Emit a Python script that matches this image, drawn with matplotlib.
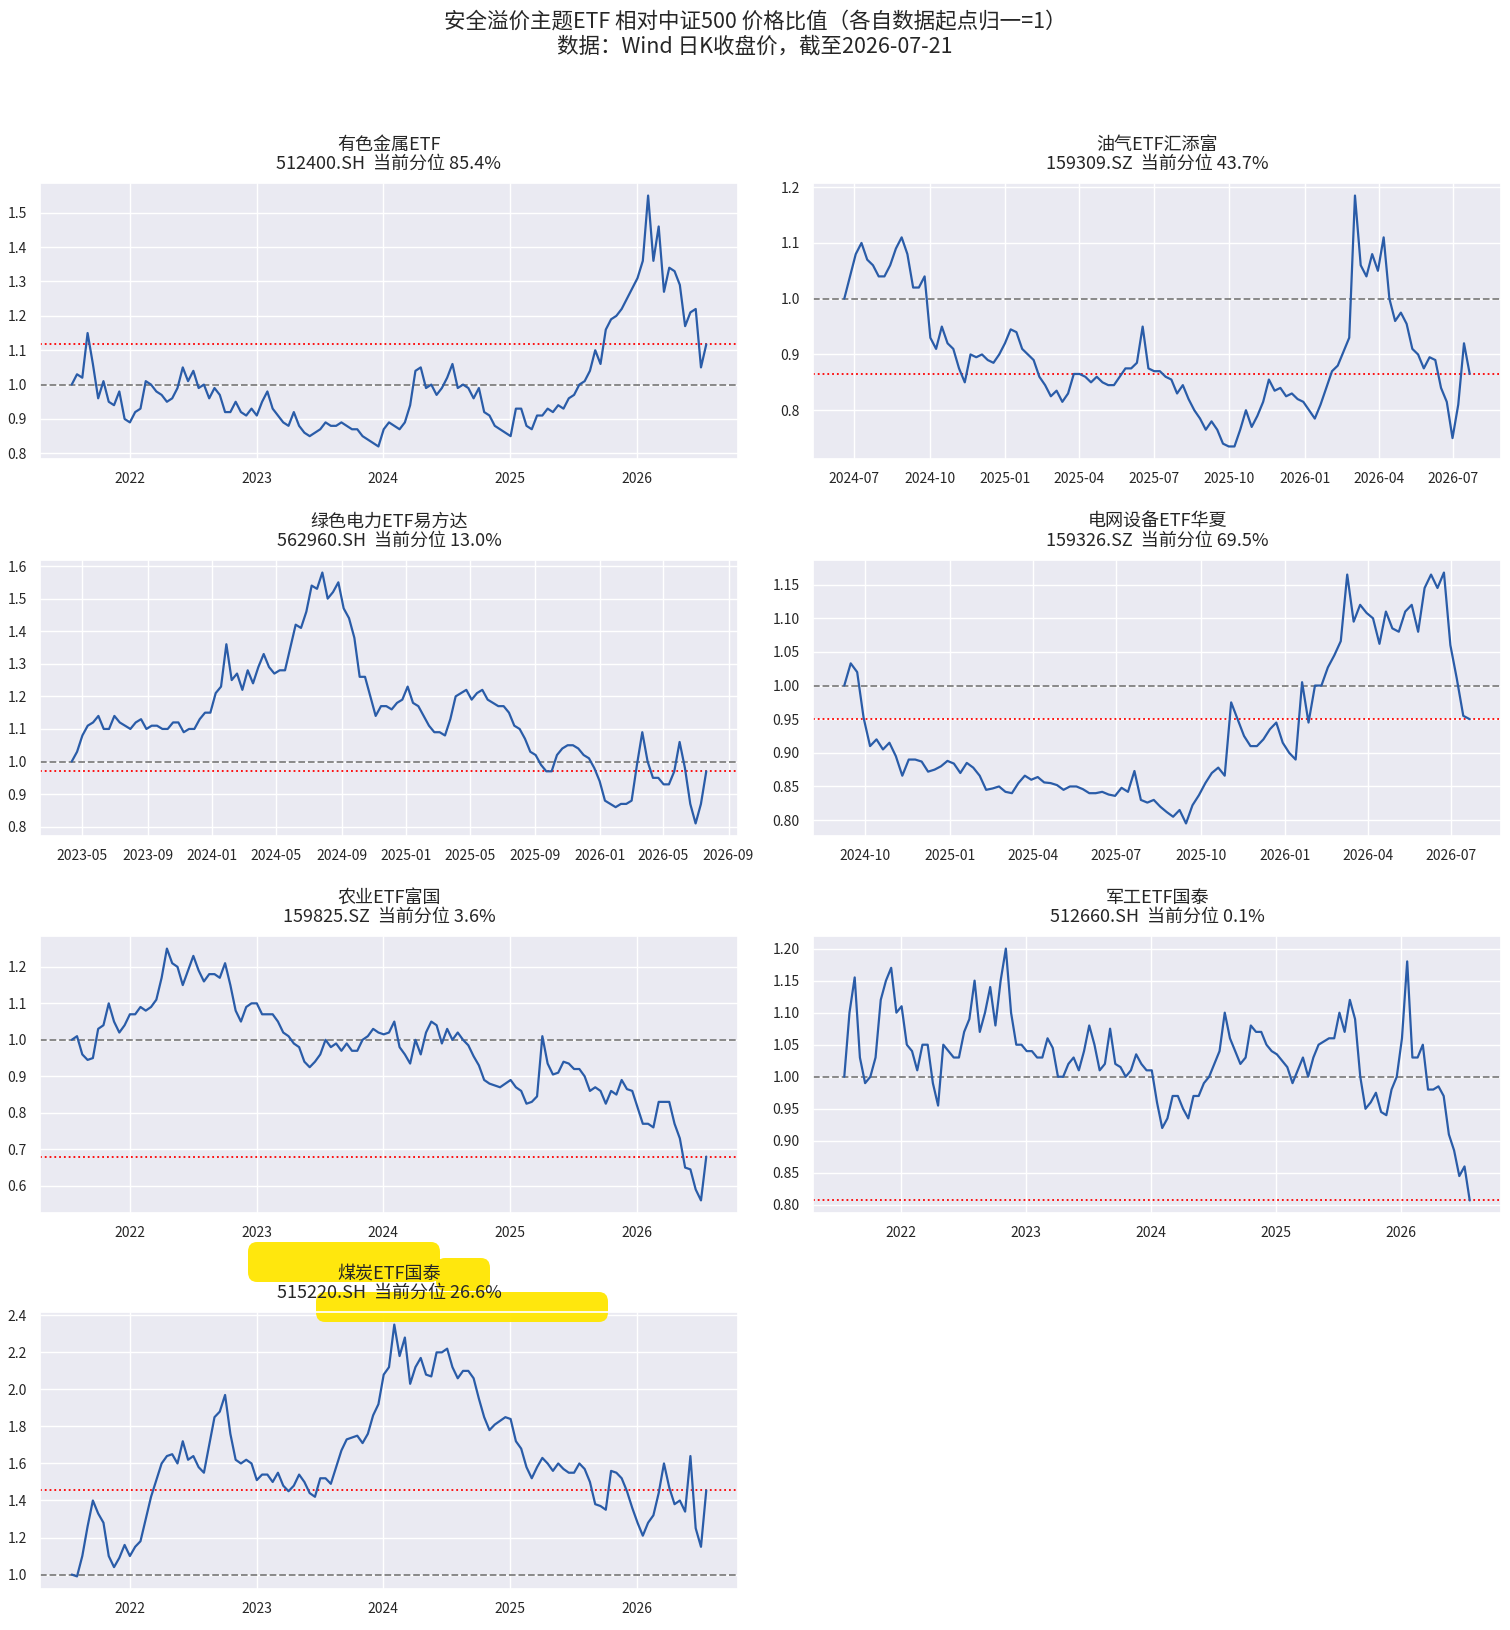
import matplotlib
matplotlib.use("Agg")
import matplotlib.pyplot as plt
import matplotlib.dates as mdates
from matplotlib.ticker import MultipleLocator, FormatStrFormatter
from matplotlib.patches import FancyBboxPatch
import pandas as pd
import seaborn as sns

sns.set_theme(style="darkgrid")
plt.rcParams["font.family"] = ["Noto Sans CJK SC", "DejaVu Sans"]
plt.rcParams["axes.unicode_minus"] = False

END_DATE = "2026-07-21"

names = ["有色金属ETF", "油气ETF汇添富", "绿色电力ETF易方达", "电网设备ETF华夏",
         "农业ETF富国", "军工ETF国泰", "煤炭ETF国泰"]
codes = ["512400.SH", "159309.SZ", "562960.SH", "159326.SZ",
         "159825.SZ", "512660.SH", "515220.SH"]
pcts = [85.4, 43.7, 13.0, 69.5, 3.6, 0.1, 26.6]
starts = ["2021-07-16", "2024-06-19", "2023-04-11", "2024-09-08",
          "2021-07-16", "2021-07-19", "2021-07-16"]

# 有色金属ETF / 中证500
metals = [1.00, 1.03, 1.02, 1.15, 1.06, 0.96, 1.01, 0.95, 0.94, 0.98,
          0.90, 0.89, 0.92, 0.93, 1.01, 1.00, 0.98, 0.97, 0.95, 0.96,
          0.99, 1.05, 1.01, 1.04, 0.99, 1.00, 0.96, 0.99, 0.97, 0.92,
          0.92, 0.95, 0.92, 0.91, 0.93, 0.91, 0.95, 0.98, 0.93, 0.91,
          0.89, 0.88, 0.92, 0.88, 0.86, 0.85, 0.86, 0.87, 0.89, 0.88,
          0.88, 0.89, 0.88, 0.87, 0.87, 0.85, 0.84, 0.83, 0.82, 0.87,
          0.89, 0.88, 0.87, 0.89, 0.94, 1.04, 1.05, 0.99, 1.00, 0.97,
          0.99, 1.02, 1.06, 0.99, 1.00, 0.99, 0.96, 0.99, 0.92, 0.91,
          0.88, 0.87, 0.86, 0.85, 0.93, 0.93, 0.88, 0.87, 0.91, 0.91,
          0.93, 0.92, 0.94, 0.93, 0.96, 0.97, 1.00, 1.01, 1.04, 1.10,
          1.06, 1.16, 1.19, 1.20, 1.22, 1.25, 1.28, 1.31, 1.36, 1.55,
          1.36, 1.46, 1.27, 1.34, 1.33, 1.29, 1.17, 1.21, 1.22, 1.05,
          1.117]

# 油气ETF汇添富
oil = [1.00, 1.04, 1.08, 1.10, 1.07, 1.06, 1.04, 1.04, 1.06, 1.09,
       1.11, 1.08, 1.02, 1.02, 1.04, 0.93, 0.91, 0.95, 0.92, 0.91,
       0.875, 0.85, 0.90, 0.895, 0.90, 0.89, 0.885, 0.90, 0.92, 0.945,
       0.94, 0.91, 0.90, 0.89, 0.86, 0.845, 0.825, 0.835, 0.815, 0.83,
       0.865, 0.865, 0.86, 0.85, 0.86, 0.85, 0.845, 0.845, 0.86, 0.875,
       0.875, 0.885, 0.95, 0.875, 0.87, 0.87, 0.86, 0.855, 0.83, 0.845,
       0.82, 0.80, 0.785, 0.765, 0.78, 0.765, 0.74, 0.735, 0.735, 0.765,
       0.80, 0.77, 0.79, 0.815, 0.855, 0.835, 0.84, 0.825, 0.83, 0.82,
       0.815, 0.80, 0.785, 0.81, 0.84, 0.87, 0.88, 0.905, 0.93, 1.185,
       1.06, 1.04, 1.08, 1.05, 1.11, 1.00, 0.96, 0.975, 0.955, 0.91,
       0.90, 0.875, 0.895, 0.89, 0.84, 0.815, 0.75, 0.81, 0.92, 0.865]

# 绿色电力ETF易方达
green = [1.00, 1.03, 1.08, 1.11, 1.12, 1.14, 1.10, 1.10, 1.14, 1.12,
         1.11, 1.10, 1.12, 1.13, 1.10, 1.11, 1.11, 1.10, 1.10, 1.12,
         1.12, 1.09, 1.10, 1.10, 1.13, 1.15, 1.15, 1.21, 1.23, 1.36,
         1.25, 1.27, 1.22, 1.28, 1.24, 1.29, 1.33, 1.29, 1.27, 1.28,
         1.28, 1.35, 1.42, 1.41, 1.46, 1.54, 1.53, 1.58, 1.50, 1.52,
         1.55, 1.47, 1.44, 1.38, 1.26, 1.26, 1.20, 1.14, 1.17, 1.17,
         1.16, 1.18, 1.19, 1.23, 1.18, 1.17, 1.14, 1.11, 1.09, 1.09,
         1.08, 1.13, 1.20, 1.21, 1.22, 1.19, 1.21, 1.22, 1.19, 1.18,
         1.17, 1.17, 1.15, 1.11, 1.10, 1.07, 1.03, 1.02, 0.99, 0.97,
         0.97, 1.02, 1.04, 1.05, 1.05, 1.04, 1.02, 1.01, 0.98, 0.94,
         0.88, 0.87, 0.86, 0.87, 0.87, 0.88, 0.99, 1.09, 1.00, 0.95,
         0.95, 0.93, 0.93, 0.97, 1.06, 0.98, 0.87, 0.81, 0.87, 0.97]

# 电网设备ETF华夏
grid = [1.00, 1.033, 1.02, 0.952, 0.91, 0.92, 0.905, 0.915, 0.895, 0.866,
        0.89, 0.89, 0.887, 0.872, 0.875, 0.88, 0.888, 0.884, 0.87, 0.885,
        0.878, 0.866, 0.845, 0.847, 0.85, 0.842, 0.84, 0.855, 0.866, 0.86,
        0.864, 0.856, 0.855, 0.852, 0.845, 0.85, 0.85, 0.846, 0.84, 0.84,
        0.842, 0.838, 0.836, 0.848, 0.842, 0.873, 0.83, 0.826, 0.83, 0.82,
        0.812, 0.805, 0.815, 0.795, 0.822, 0.837, 0.855, 0.87, 0.878, 0.866,
        0.975, 0.95, 0.925, 0.91, 0.91, 0.92, 0.935, 0.945, 0.915, 0.90,
        0.89, 1.005, 0.945, 1.00, 1.00, 1.027, 1.045, 1.066, 1.165, 1.095,
        1.12, 1.108, 1.10, 1.062, 1.11, 1.085, 1.08, 1.11, 1.12, 1.08,
        1.145, 1.165, 1.145, 1.168, 1.06, 1.01, 0.955, 0.95]

# 农业ETF富国
agri = [1.00, 1.01, 0.96, 0.945, 0.95, 1.03, 1.04, 1.10, 1.05, 1.02,
        1.04, 1.07, 1.07, 1.09, 1.08, 1.09, 1.11, 1.17, 1.25, 1.21,
        1.20, 1.15, 1.19, 1.23, 1.19, 1.16, 1.18, 1.18, 1.17, 1.21,
        1.15, 1.08, 1.05, 1.09, 1.10, 1.10, 1.07, 1.07, 1.07, 1.05,
        1.02, 1.01, 0.99, 0.98, 0.94, 0.925, 0.94, 0.96, 1.00, 0.98,
        0.99, 0.97, 0.99, 0.97, 0.97, 1.00, 1.01, 1.03, 1.02, 1.015,
        1.02, 1.05, 0.98, 0.96, 0.935, 1.00, 0.96, 1.02, 1.05, 1.04,
        0.99, 1.03, 1.00, 1.02, 1.00, 0.985, 0.955, 0.93, 0.89, 0.88,
        0.875, 0.87, 0.88, 0.89, 0.87, 0.86, 0.825, 0.83, 0.845, 1.01,
        0.935, 0.905, 0.91, 0.94, 0.935, 0.92, 0.92, 0.90, 0.86, 0.87,
        0.86, 0.825, 0.86, 0.85, 0.89, 0.865, 0.86, 0.815, 0.77, 0.77,
        0.76, 0.83, 0.83, 0.83, 0.77, 0.73, 0.65, 0.645, 0.59, 0.56,
        0.68]

# 军工ETF国泰
defense = [1.00, 1.10, 1.155, 1.03, 0.99, 1.00, 1.03, 1.12, 1.15, 1.17,
           1.10, 1.11, 1.05, 1.04, 1.01, 1.05, 1.05, 0.99, 0.955, 1.05,
           1.04, 1.03, 1.03, 1.07, 1.09, 1.15, 1.07, 1.10, 1.14, 1.08,
           1.15, 1.20, 1.10, 1.05, 1.05, 1.04, 1.04, 1.03, 1.03, 1.06,
           1.045, 1.00, 1.00, 1.02, 1.03, 1.01, 1.04, 1.08, 1.05, 1.01,
           1.02, 1.075, 1.02, 1.015, 1.00, 1.01, 1.035, 1.02, 1.01, 1.01,
           0.96, 0.92, 0.935, 0.97, 0.97, 0.95, 0.935, 0.97, 0.97, 0.99,
           1.00, 1.02, 1.04, 1.10, 1.06, 1.04, 1.02, 1.03, 1.08, 1.07,
           1.07, 1.05, 1.04, 1.035, 1.025, 1.015, 0.99, 1.01, 1.03, 1.00,
           1.03, 1.05, 1.055, 1.06, 1.06, 1.10, 1.07, 1.12, 1.09, 1.00,
           0.95, 0.96, 0.975, 0.945, 0.94, 0.98, 1.00, 1.06, 1.18, 1.03,
           1.03, 1.05, 0.98, 0.98, 0.985, 0.97, 0.91, 0.885, 0.845, 0.86,
           0.807]

# 煤炭ETF国泰
coal = [1.00, 0.99, 1.10, 1.26, 1.40, 1.33, 1.28, 1.10, 1.04, 1.09,
        1.16, 1.10, 1.15, 1.18, 1.30, 1.42, 1.51, 1.60, 1.64, 1.65,
        1.60, 1.72, 1.62, 1.64, 1.58, 1.55, 1.70, 1.85, 1.88, 1.97,
        1.76, 1.62, 1.60, 1.62, 1.60, 1.51, 1.54, 1.54, 1.50, 1.55,
        1.48, 1.45, 1.48, 1.54, 1.50, 1.44, 1.42, 1.52, 1.52, 1.49,
        1.58, 1.67, 1.73, 1.74, 1.75, 1.71, 1.76, 1.86, 1.92, 2.08,
        2.12, 2.35, 2.18, 2.28, 2.03, 2.12, 2.17, 2.08, 2.07, 2.20,
        2.20, 2.22, 2.12, 2.06, 2.10, 2.10, 2.06, 1.95, 1.85, 1.78,
        1.81, 1.83, 1.85, 1.84, 1.72, 1.68, 1.58, 1.52, 1.58, 1.63,
        1.60, 1.56, 1.60, 1.57, 1.55, 1.55, 1.60, 1.57, 1.50, 1.38,
        1.37, 1.35, 1.56, 1.55, 1.52, 1.45, 1.36, 1.28, 1.21, 1.28,
        1.32, 1.44, 1.60, 1.47, 1.38, 1.40, 1.34, 1.64, 1.25, 1.15,
        1.455]

series = [metals, oil, green, grid, agri, defense, coal]

# x 轴刻度：年 / 季度 / 四个月
x_ticks = ["year", "quarter", "4month", "quarter", "year", "year", "year"]
y_steps = [0.1, 0.1, 0.1, 0.05, 0.1, 0.05, 0.2]

LINE_COLOR = "#2a5ca8"

fig, axes = plt.subplots(4, 2, figsize=(15.1, 16.3), dpi=100)
axes = axes.flatten()

# 手动排版（像素 -> figure 比例）
W, H = 1510, 1630
col_x = [(40, 698), (813, 688)]
row_y = [(183, 459), (560, 836), (936, 1213), (1312, 1589)]

for i in range(7):
    ax = axes[i]
    r, c = divmod(i, 2)
    x0, w = col_x[c]
    top, bot = row_y[r]
    ax.set_position([x0 / W, 1 - bot / H, w / W, (bot - top) / H])

    vals = series[i]
    dates = pd.date_range(starts[i], END_DATE, periods=len(vals))
    ax.plot(dates, vals, color=LINE_COLOR, lw=1.6, zorder=2)
    ax.axhline(1.0, color="gray", ls="--", lw=1.3, zorder=1.5)
    ax.axhline(vals[-1], color="red", ls=":", lw=1.3, zorder=1.5)

    ax.set_title(f"{names[i]}\n{codes[i]}  当前分位 {pcts[i]:.1f}%", fontsize=13,
                 linespacing=1.1, pad=10)

    if x_ticks[i] == "year":
        ax.xaxis.set_major_locator(mdates.YearLocator())
        ax.xaxis.set_major_formatter(mdates.DateFormatter("%Y"))
    elif x_ticks[i] == "quarter":
        ax.xaxis.set_major_locator(mdates.MonthLocator(bymonth=[1, 4, 7, 10]))
        ax.xaxis.set_major_formatter(mdates.DateFormatter("%Y-%m"))
    else:
        ax.xaxis.set_major_locator(mdates.MonthLocator(bymonth=[1, 5, 9]))
        ax.xaxis.set_major_formatter(mdates.DateFormatter("%Y-%m"))

    ax.yaxis.set_major_locator(MultipleLocator(y_steps[i]))
    if y_steps[i] == 0.05:
        ax.yaxis.set_major_formatter(FormatStrFormatter("%.2f"))
    else:
        ax.yaxis.set_major_formatter(FormatStrFormatter("%.1f"))
    ax.tick_params(labelsize=10)

# 右下角空白
axes[7].remove()

fig.suptitle("安全溢价主题ETF 相对中证500 价格比值（各自数据起点归一=1）\n数据：Wind 日K收盘价，截至2026-07-21",
             y=1 - 11 / H, va="top", fontsize=15.5, linespacing=1.15)

# 煤炭标题上的黄色荧光笔标记
coal_ax = axes[6]
marks = [(248, 1242, 192, 40), (436, 1258, 54, 33), (316, 1292, 292, 30)]
for mx, my, mw, mh in marks:
    p = FancyBboxPatch((mx / W, 1 - (my + mh) / H), mw / W, mh / H,
                       boxstyle="round,pad=0,rounding_size=0.006",
                       transform=fig.transFigure, facecolor="#ffe600",
                       edgecolor="none", alpha=0.95, clip_on=False, zorder=2.5)
    coal_ax.add_artist(p)

fig.savefig("out.png", dpi=100)
